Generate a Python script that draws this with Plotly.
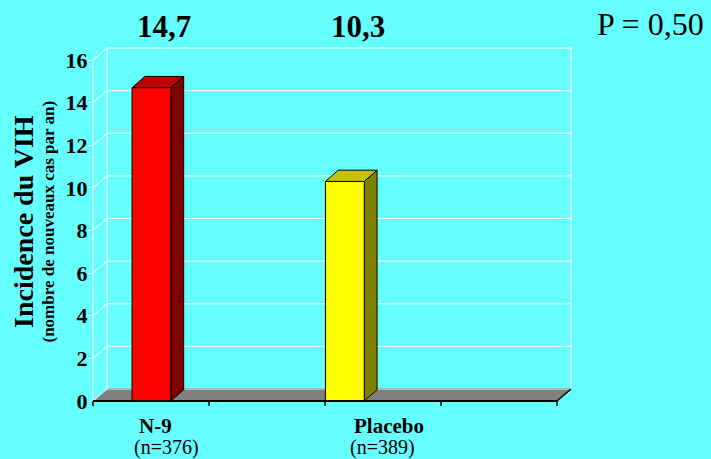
import plotly.graph_objects as go

# ---------------- data ----------------
categories = ["N-9", "Placebo"]
sample_sizes = ["(n=376)", "(n=389)"]
values = [14.7, 10.3]
p_value_label = "P = 0,50"
y_ticks = [0, 2, 4, 6, 8, 10, 12, 14, 16]
y_title = "Incidence du VIH"
y_subtitle = "(nombre de nouveaux cas par an)"

# ---------------- layout constants ----------------
W, H = 711, 459
L, R, T, B = 92, 600, 44, 412          # plot area in pixels
PX_X = 116.0                            # pixels per category slot
PX_Y = 341.0 / 16                       # pixels per y unit
X0_PX, Y0_PX = 93, 401                  # pixel of (0, 0)
N_SLOTS = 4
DX, DY = 14 / PX_X, 12 / PX_Y           # floor / wall depth
BDX, BDY = 12.8 / PX_X, 11.3 / PX_Y     # bar depth
BAR_CENTERS = [0.504, 2.171]
BAR_W = 0.335
FRONT = ["#FF0000", "#FFFF00"]
TOP = ["#C00000", "#C8C000"]
SIDE = ["#800000", "#808000"]
BG = "#66FFFF"
FONT = "Liberation Serif, Times New Roman, serif"


def px2x(px):
    return (px - X0_PX) / PX_X


def px2y(py):
    return (Y0_PX - py) / PX_Y


def px2paper_x(px):
    return (px - L) / (R - L)


def px2paper_y(py):
    return (B - py) / (B - T)


fig = go.Figure()

# ---------- structural shapes (floor, wall, grid) ----------
shapes = []
top_v = y_ticks[-1]
# floor
shapes.append(dict(type="path",
                   path=f"M 0 0 L {N_SLOTS} 0 L {N_SLOTS + DX} {DY} L {DX} {DY} Z",
                   fillcolor="#808080", line=dict(width=0), layer="below"))
shapes.append(dict(type="line", x0=DX, y0=DY, x1=N_SLOTS + DX, y1=DY,
                   line=dict(color="#B4B4B4", width=2), layer="below"))
# back wall grid lines
for t in y_ticks[1:]:
    shapes.append(dict(type="line", x0=DX, y0=t + DY, x1=N_SLOTS + DX, y1=t + DY,
                       line=dict(color="white", width=1), layer="below"))
# diagonal lines from front axis to back wall
for t in y_ticks:
    shapes.append(dict(type="line", x0=0, y0=t, x1=DX, y1=t + DY,
                       line=dict(color="white", width=1), layer="below"))
# back wall verticals and front axis
shapes.append(dict(type="line", x0=DX, y0=DY, x1=DX, y1=top_v + DY,
                   line=dict(color="white", width=1), layer="below"))
shapes.append(dict(type="line", x0=N_SLOTS + DX, y0=DY, x1=N_SLOTS + DX, y1=top_v + DY,
                   line=dict(color="white", width=1), layer="below"))
shapes.append(dict(type="line", x0=0, y0=0, x1=0, y1=top_v,
                   line=dict(color="white", width=1), layer="below"))
# floor front edge, right edge, and category ticks
shapes.append(dict(type="line", x0=0, y0=0, x1=N_SLOTS, y1=0,
                   line=dict(color="black", width=2), layer="above"))
shapes.append(dict(type="line", x0=N_SLOTS, y0=0, x1=N_SLOTS + DX, y1=DY,
                   line=dict(color="black", width=1.5), layer="above"))
for k in range(N_SLOTS + 1):
    shapes.append(dict(type="line", x0=k, y0=0, x1=k, y1=-5 / PX_Y,
                       line=dict(color="black", width=1.5), layer="above"))

# ---------- 3D bars as filled polygons ----------
for i, (cat, v) in enumerate(zip(categories, values)):
    x0 = BAR_CENTERS[i] - BAR_W / 2
    x1 = BAR_CENTERS[i] + BAR_W / 2
    faces = [
        ([x1, x1 + BDX, x1 + BDX, x1, x1], [0, BDY, v + BDY, v, 0], SIDE[i]),
        ([x0, x1, x1 + BDX, x0 + BDX, x0], [v, v, v + BDY, v + BDY, v], TOP[i]),
        ([x0, x1, x1, x0, x0], [0, 0, v, v, 0], FRONT[i]),
    ]
    for xs, ys, col in faces:
        fig.add_trace(go.Scatter(x=xs, y=ys, mode="lines", fill="toself",
                                 fillcolor=col, line=dict(color="black", width=1),
                                 hoverinfo="skip", showlegend=False, name=cat))

# ---------- annotations (paper coordinates, so they may sit outside the plot) ----------
ann = []
value_label_dx = 0.11
for i, v in enumerate(values):
    cx = X0_PX + (BAR_CENTERS[i] + value_label_dx) * PX_X
    ann.append(dict(x=px2paper_x(cx), y=px2paper_y(26.5), xref="paper", yref="paper",
                    text="<b>" + f"{v:.1f}".replace(".", ",") + "</b>",
                    showarrow=False, xanchor="center", yanchor="middle",
                    font=dict(family=FONT, size=31, color="black")))
ann.append(dict(x=px2paper_x(650.5), y=px2paper_y(24), xref="paper", yref="paper",
                text=p_value_label, showarrow=False, xanchor="center", yanchor="middle",
                font=dict(family=FONT, size=32, color="black")))
cat_label_px = [155, 388.5]
n_label_px = [166, 382]
for i, cat in enumerate(categories):
    ann.append(dict(x=px2paper_x(cat_label_px[i]), y=px2paper_y(426), xref="paper", yref="paper",
                    text="<b>" + cat + "</b>", showarrow=False,
                    xanchor="center", yanchor="middle",
                    font=dict(family=FONT, size=21, color="black")))
    ann.append(dict(x=px2paper_x(n_label_px[i]), y=px2paper_y(447), xref="paper", yref="paper",
                    text=sample_sizes[i], showarrow=False,
                    xanchor="center", yanchor="middle",
                    font=dict(family=FONT, size=20, color="black")))
ann.append(dict(x=px2paper_x(23), y=px2paper_y(222), xref="paper", yref="paper",
                text="<b>" + y_title + "</b>",
                textangle=-90, showarrow=False, xanchor="center", yanchor="middle",
                font=dict(family=FONT, size=28, color="black")))
ann.append(dict(x=px2paper_x(47.5), y=px2paper_y(222), xref="paper", yref="paper",
                text="<b>" + y_subtitle + "</b>",
                textangle=-90, showarrow=False, xanchor="center", yanchor="middle",
                font=dict(family=FONT, size=17, color="black")))

fig.update_layout(
    width=W, height=H, autosize=False,
    margin=dict(l=L, r=W - R, t=T, b=H - B, pad=0),
    paper_bgcolor=BG, plot_bgcolor=BG,
    showlegend=False,
    shapes=shapes, annotations=ann,
    xaxis=dict(range=[px2x(L), px2x(R)], visible=False, fixedrange=True),
    yaxis=dict(range=[px2y(B), px2y(T)], tickvals=y_ticks,
               ticktext=[str(t) for t in y_ticks],
               ticks="outside", ticklen=3, tickcolor="white", tickwidth=1,
               ticklabelstandoff=-4,
               showgrid=False, zeroline=False, showline=False,
               tickfont=dict(family=FONT, size=22, color="black", weight="bold"),
               fixedrange=True),
)

fig.write_html("out.html", config={"displayModeBar": False},
               post_script="document.body.style.margin='0';document.body.style.background='" + BG + "';")
